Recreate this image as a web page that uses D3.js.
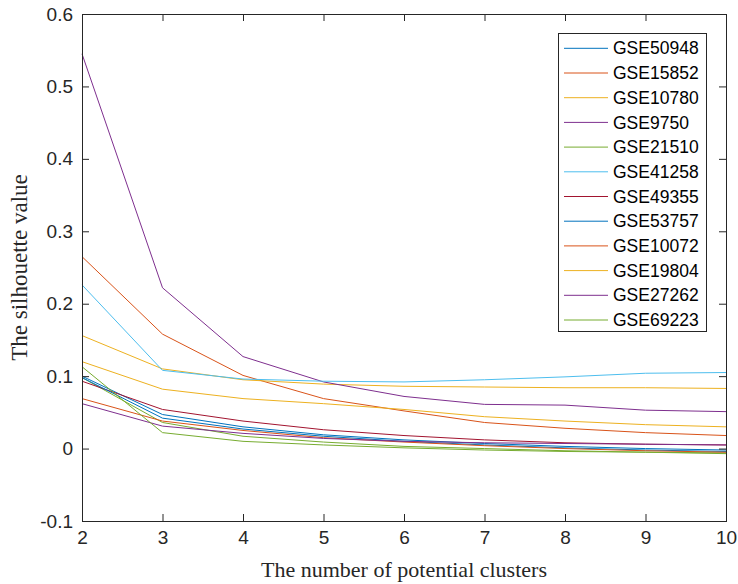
<!DOCTYPE html>
<html>
<head>
<meta charset="utf-8">
<script src="https://cdn.jsdelivr.net/npm/d3@7"></script>
<style>
  html, body { margin: 0; padding: 0; background: #fff; }
  svg { display: block; }
</style>
</head>
<body>
<svg id="chart" width="738" height="584"></svg>
<script>
// ---- data ----
const xValues = [2, 3, 4, 5, 6, 7, 8, 9, 10];
const seriesNames = ["GSE50948", "GSE15852", "GSE10780", "GSE9750", "GSE21510", "GSE41258",
                     "GSE49355", "GSE53757", "GSE10072", "GSE19804", "GSE27262", "GSE69223"];
const GSE50948 = [0.100, 0.047, 0.030, 0.019, 0.012, 0.007, 0.003, 0.000, -0.002];
const GSE15852 = [0.265, 0.158, 0.101, 0.069, 0.052, 0.036, 0.028, 0.022, 0.018];
const GSE10780 = [0.156, 0.110, 0.095, 0.089, 0.086, 0.085, 0.084, 0.084, 0.083];
const GSE9750  = [0.545, 0.222, 0.127, 0.092, 0.072, 0.061, 0.060, 0.053, 0.051];
const GSE21510 = [0.098, 0.036, 0.017, 0.009, 0.003, 0.000, -0.003, -0.005, -0.006];
const GSE41258 = [0.226, 0.108, 0.096, 0.093, 0.092, 0.095, 0.099, 0.104, 0.105];
const GSE49355 = [0.093, 0.054, 0.038, 0.026, 0.018, 0.012, 0.008, 0.006, 0.005];
const GSE53757 = [0.098, 0.042, 0.027, 0.017, 0.010, 0.005, 0.001, -0.002, -0.004];
const GSE10072 = [0.069, 0.038, 0.025, 0.015, 0.009, 0.004, 0.000, -0.003, -0.005];
const GSE19804 = [0.120, 0.082, 0.069, 0.062, 0.054, 0.044, 0.038, 0.033, 0.030];
const GSE27262 = [0.062, 0.031, 0.021, 0.014, 0.010, 0.008, 0.007, 0.006, 0.005];
const GSE69223 = [0.113, 0.022, 0.010, 0.005, 0.001, -0.002, -0.004, -0.005, -0.007];
const seriesValues = [GSE50948, GSE15852, GSE10780, GSE9750, GSE21510, GSE41258,
                      GSE49355, GSE53757, GSE10072, GSE19804, GSE27262, GSE69223];
const colors = ["#0072BD", "#D95319", "#EDB120", "#7E2F8E", "#77AC30", "#4DBEEE",
                "#A2142F", "#0072BD", "#D95319", "#EDB120", "#7E2F8E", "#77AC30"];
const xTicks = [2, 3, 4, 5, 6, 7, 8, 9, 10];
const yTicks = [-0.1, 0, 0.1, 0.2, 0.3, 0.4, 0.5, 0.6];
const yTickLabels = ["-0.1", "0", "0.1", "0.2", "0.3", "0.4", "0.5", "0.6"];
const xLabel = "The number of potential clusters";
const yLabel = "The silhouette value";

// ---- layout ----
const W = 738, H = 584;
const m = { left: 82, right: 12, top: 14, bottom: 63 };
const iw = W - m.left - m.right, ih = H - m.top - m.bottom;
const axisColor = "#262626";
const sans = "'Liberation Sans', Arial, Helvetica, sans-serif";
const serif = "'Liberation Serif', 'Times New Roman', serif";

const svg = d3.select("#chart");
const g = svg.append("g").attr("transform", `translate(${m.left},${m.top})`);

const x = d3.scaleLinear().domain([2, 10]).range([0, iw]);
const y = d3.scaleLinear().domain([-0.1, 0.6]).range([ih, 0]);

const fmtY = d => yTickLabels[yTicks.findIndex(t => Math.abs(t - d) < 1e-9)];

// lines
const line = d3.line().x((d, i) => x(xValues[i])).y(d => y(d));
seriesValues.forEach((vals, k) => {
  g.append("path")
    .datum(vals)
    .attr("fill", "none")
    .attr("stroke", colors[k])
    .attr("stroke-width", 1)
    .attr("d", line);
});

// axes (ticks inside, MATLAB style)
function styleAxis(sel) {
  sel.select(".domain").remove();
  sel.selectAll(".tick line").attr("stroke", axisColor);
  sel.selectAll(".tick text").attr("fill", axisColor)
     .style("font-family", sans)
     .style("font-size", "19px");
}
g.append("g").attr("transform", `translate(0,${ih})`)
  .call(d3.axisBottom(x).tickValues(xTicks).tickFormat(d3.format("d")).tickSize(-7).tickPadding(10))
  .call(styleAxis);
g.append("g")
  .call(d3.axisTop(x).tickValues(xTicks).tickFormat("").tickSize(-7))
  .call(styleAxis);
g.append("g")
  .call(d3.axisLeft(y).tickValues(yTicks).tickFormat(fmtY).tickSize(-7).tickPadding(9))
  .call(styleAxis);
g.append("g").attr("transform", `translate(${iw},0)`)
  .call(d3.axisRight(y).tickValues(yTicks).tickFormat("").tickSize(-7))
  .call(styleAxis);

// box
g.append("rect").attr("x", 0).attr("y", 0).attr("width", iw).attr("height", ih)
  .attr("fill", "none").attr("stroke", axisColor).attr("stroke-width", 1)
  .attr("shape-rendering", "crispEdges");

// axis labels
svg.append("text")
  .attr("x", m.left + iw / 2).attr("y", H - 7)
  .attr("text-anchor", "middle")
  .attr("fill", axisColor)
  .style("font-family", serif)
  .style("font-size", "22px")
  .text(xLabel);
svg.append("text")
  .attr("transform", `translate(27,${m.top + ih / 2}) rotate(-90)`)
  .attr("text-anchor", "middle")
  .attr("fill", axisColor)
  .style("font-family", serif)
  .style("font-size", "23px")
  .text(yLabel);

// legend
const lg = svg.append("g");
lg.append("rect").attr("x", 558.5).attr("y", 33.5).attr("width", 148).attr("height", 298)
  .attr("fill", "#fff").attr("stroke", axisColor).attr("stroke-width", 1);
seriesNames.forEach((name, k) => {
  const yy = 48.3 + k * 24.7;
  lg.append("line").attr("x1", 564).attr("x2", 608).attr("y1", yy).attr("y2", yy)
    .attr("stroke", colors[k]).attr("stroke-width", 1);
  lg.append("text").attr("x", 613).attr("y", yy).attr("dy", "0.35em")
    .attr("fill", "#000")
    .style("font-family", sans)
    .style("font-size", "17.5px")
    .text(name);
});
</script>
</body>
</html>
